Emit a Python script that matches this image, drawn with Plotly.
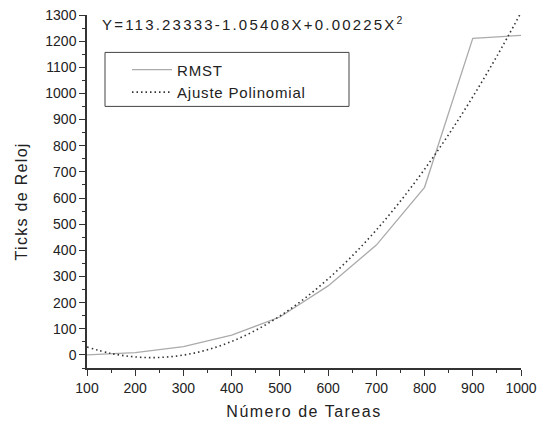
import plotly.graph_objects as go

tareas = [100, 200, 300, 400, 500, 600, 700, 800, 900, 1000]
rmst = [0, 9, 32, 76, 145, 264, 420, 641, 1211, 1222]

fit_x = [100, 150, 200, 250, 300, 350, 400, 450, 500, 550,
         600, 650, 700, 750, 800, 850, 900, 950, 1000]
fit_y = [30.3, 5.7, -7.6, -9.7, -0.5, 19.9, 51.6, 94.5, 148.7, 214.1,
         290.8, 378.7, 477.9, 588.3, 710.0, 842.9, 987.1, 1142.5, 1309.2]

x_ticks = [100, 200, 300, 400, 500, 600, 700, 800, 900, 1000]
y_ticks = [0, 100, 200, 300, 400, 500, 600, 700, 800, 900, 1000, 1100, 1200, 1300]

FONT = "Liberation Sans, Arial, sans-serif"
AX = "#333333"


def spaced(t, ls):
    return '<span style="letter-spacing:%spx">%s</span>' % (ls, t)


fig = go.Figure()
fig.add_trace(go.Scatter(x=tareas, y=rmst, mode="lines", name=spaced("RMST", 0.8),
                         line=dict(color="#ababab", width=1.3)))
fig.add_trace(go.Scatter(x=fit_x, y=fit_y, mode="lines", name=spaced("Ajuste Polinomial", 0.8),
                         line=dict(color="#333333", width=1.6, dash="1.5px,3px", shape="spline")))

axis_common = dict(showgrid=False, zeroline=False, showline=True, linecolor=AX, linewidth=1.5,
                   ticks="outside", ticklen=6, tickwidth=1.3, tickcolor=AX, automargin=False,
                   tickfont=dict(family=FONT, size=14, color="#222"),
                   minor=dict(ticks="outside", ticklen=3, tickwidth=1.2, tickcolor=AX))

fig.update_xaxes(range=[100, 1000], tickvals=x_ticks, minor_dtick=50,
                 title=dict(text=spaced("Número de Tareas", 1.5),
                            font=dict(family=FONT, size=16, color="#222"), standoff=11),
                 **axis_common)
fig.update_yaxes(range=[-50, 1300], tickvals=y_ticks, minor_dtick=50, **axis_common)

# y-axis title (placed slightly below the plot centre, as in the reference)
fig.add_annotation(xref="paper", yref="paper", x=(21 - 87) / 434, y=(367.6 - 201) / 353,
                   xanchor="center", yanchor="middle", showarrow=False, textangle=-90,
                   text=spaced("Ticks de Reloj", 1.3),
                   font=dict(family=FONT, size=16, color="#222"))

fig.add_shape(type="rect", xref="paper", yref="paper",
              x0=(105 - 87) / 434, x1=(349 - 87) / 434,
              y0=(367.6 - 106) / 353, y1=(367.6 - 52) / 353,
              line=dict(color="#444", width=1), fillcolor="rgba(0,0,0,0)")

fig.add_annotation(xref="paper", yref="paper", x=(100 - 87) / 434, y=(367.6 - 23) / 353,
                   xanchor="left", yanchor="middle", showarrow=False,
                   text=spaced("Y=113.23333-1.05408X+0.00225X<sup>2</sup>", 2.2),
                   font=dict(family=FONT, size=15, color="#222"))

fig.update_layout(
    width=539, height=422,
    margin=dict(l=87, r=18, t=15, b=54, autoexpand=False),
    paper_bgcolor="white", plot_bgcolor="white",
    showlegend=True,
    legend=dict(x=(127 - 87) / 434, y=(367.6 - 53) / 353, xanchor="left", yanchor="top",
                bgcolor="rgba(0,0,0,0)", borderwidth=0,
                font=dict(family=FONT, size=15, color="#222"),
                itemwidth=40, tracegroupgap=0),
)

fig.write_html("out.html")
